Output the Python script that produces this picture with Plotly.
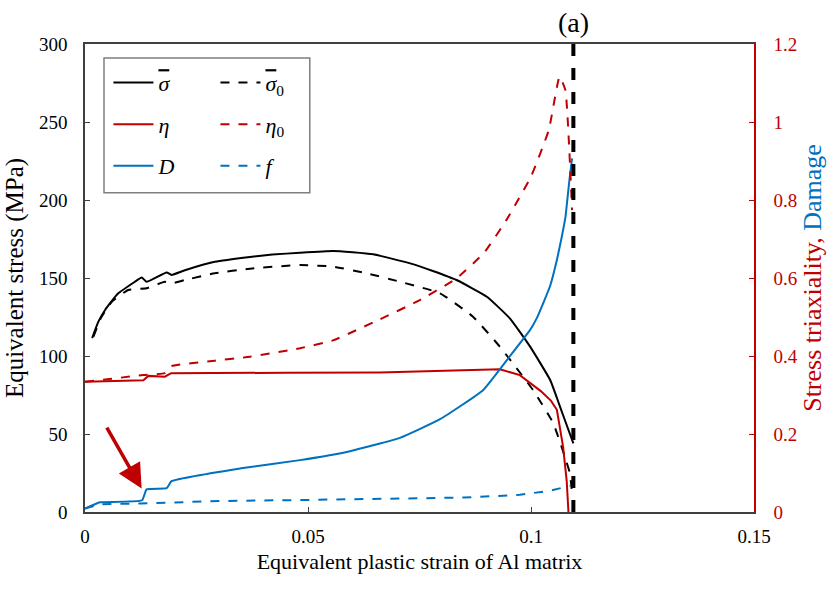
import plotly.graph_objects as go

# Equivalent stress (MPa) vs equivalent plastic strain
strain_sig = [0.0016, 0.003, 0.0045, 0.0074, 0.0112, 0.0127, 0.0138, 0.0183, 0.0194, 0.0224,
              0.0291, 0.037, 0.042, 0.0482, 0.0556, 0.060, 0.0646, 0.0729, 0.078, 0.0833,
              0.0901, 0.0953, 0.0998, 0.1043, 0.1062, 0.1072, 0.1095]
sig = [111.5, 122, 129.5, 140, 147.6, 150.4, 147.6, 153.6, 152, 155,
       160.4, 163.5, 165, 166.2, 167.3, 166.5, 165.2, 159.4, 154.5, 148.7,
       138, 124, 106, 84.6, 70, 62, 44]

strain_sig0 = [0.0019, 0.0035, 0.006, 0.0097, 0.0138, 0.0179, 0.0194, 0.0224, 0.0291, 0.037,
               0.0482, 0.0556, 0.0632, 0.0706, 0.0796, 0.087, 0.093, 0.1005, 0.105, 0.1087, 0.1092]
sig0 = [112.4, 124, 134.8, 142.3, 143.4, 147.6, 146.6, 148.7, 153, 156,
        158.3, 157.3, 153, 147.6, 140.2, 125.2, 106, 78, 56.8, 25, 12]

# Stress triaxiality
strain_eta = [0, 0.0131, 0.0142, 0.0179, 0.0193, 0.0291, 0.045, 0.0661, 0.08, 0.093,
              0.0975, 0.1005, 0.1022, 0.1045, 0.1058, 0.1072, 0.1080, 0.1084]
eta = [0.334, 0.338, 0.349, 0.347, 0.356, 0.356, 0.357, 0.358, 0.362, 0.366,
       0.351, 0.326, 0.31, 0.285, 0.262, 0.167, 0.08, 0.0]

strain_eta0 = [0, 0.0131, 0.0179, 0.0194, 0.0291, 0.037, 0.0482, 0.0556, 0.0661, 0.0745,
               0.0833, 0.0895, 0.0945, 0.1, 0.104, 0.1064, 0.1077, 0.1092]
eta0 = [0.334, 0.351, 0.356, 0.374, 0.388, 0.398, 0.42, 0.44, 0.494, 0.54,
        0.599, 0.665, 0.749, 0.86, 0.98, 1.116, 1.082, 0.774]

# Damage D and void volume fraction f
strain_D = [0, 0.0022, 0.0034, 0.0128, 0.0138, 0.0183, 0.0194, 0.035, 0.0482, 0.0594,
            0.0706, 0.0796, 0.0893, 0.0953, 0.0998, 0.1013, 0.1043, 0.1058, 0.1068, 0.1077,
            0.1086, 0.1092]
D = [0.009, 0.02, 0.025, 0.03, 0.058, 0.061, 0.079, 0.112, 0.133, 0.156,
     0.19, 0.238, 0.313, 0.40, 0.467, 0.497, 0.58, 0.646, 0.70, 0.754,
     0.85, 0.907]

strain_f = [0, 0.0034, 0.0125, 0.03, 0.05, 0.07, 0.085, 0.0975, 0.1045, 0.1087]
f = [0.009, 0.02, 0.022, 0.028, 0.031, 0.034, 0.037, 0.044, 0.055, 0.067]

fracture_strain = 0.1095
arrow_tip = (0.0127, 15)
arrow_tail = (0.0047, 55)

BLACK = "#000000"
RED = "#C00000"
BLUE = "#0070C0"
FONT = "Liberation Serif"

fig = go.Figure()


def add(x, y, name, color, dash, axis, legend, shape="linear"):
    fig.add_trace(go.Scatter(
        x=x, y=y, name=name, mode="lines", yaxis=axis,
        line=dict(color=color, width=2, dash=dash, shape=shape, smoothing=0.4),
        legend=legend, legendgroup=name,
    ))


SIGMA_BAR = "<span style='text-decoration:overline'><i>σ</i></span>"

add(strain_sig, sig, SIGMA_BAR, BLACK, "solid", "y", "legend", "spline")
add(strain_eta, eta, "<i>η</i>", RED, "solid", "y2", "legend")
add(strain_D, D, "<i>D</i>", BLUE, "solid", "y2", "legend", "spline")
add(strain_sig0, sig0, SIGMA_BAR + "<sub>0</sub>", BLACK, "dash", "y", "legend2", "spline")
add(strain_eta0, eta0, "<i>η</i><sub>0</sub>", RED, "dash", "y2", "legend2", "spline")
add(strain_f, f, "<i>f</i>", BLUE, "dash", "y2", "legend2")

# fracture strain marker
fig.add_shape(type="line", xref="x", yref="paper", x0=fracture_strain, x1=fracture_strain,
              y0=0, y1=1, line=dict(color=BLACK, width=4, dash="dash"))

# legend frame
fig.add_shape(type="rect", xref="paper", yref="paper", x0=0.0284, x1=0.336, y0=0.682, y1=0.970,
              line=dict(color="#7f7f7f", width=1.5), fillcolor="rgba(0,0,0,0)")

fig.add_annotation(x=arrow_tip[0], y=arrow_tip[1], ax=arrow_tail[0], ay=arrow_tail[1],
                   xref="x", yref="y", axref="x", ayref="y", text="", showarrow=True,
                   arrowhead=2, arrowsize=1.4, arrowwidth=3.5, arrowcolor=RED)

fig.add_annotation(x=fracture_strain, y=1.0, xref="x", yref="paper", yanchor="bottom",
                   text="(a)", showarrow=False, font=dict(family=FONT, size=28, color=BLACK),
                   yshift=4)

legend_common = dict(
    bgcolor="rgba(0,0,0,0)", borderwidth=0, font=dict(family=FONT, size=22, color=BLACK),
    xanchor="left", yanchor="top", tracegroupgap=10, itemwidth=40,
)

tick_font = dict(family=FONT, size=19, color=BLACK)

fig.update_layout(
    width=832, height=591,
    margin=dict(l=85, r=78, t=44, b=79),
    paper_bgcolor="white", plot_bgcolor="white",
    font=dict(family=FONT, size=19, color=BLACK),
    legend=dict(x=0.035, y=0.962, **legend_common),
    legend2=dict(x=0.195, y=0.962, **legend_common),
    xaxis=dict(
        range=[0, 0.15], tickvals=[0, 0.05, 0.1, 0.15], ticktext=["0", "0.05", "0.1", "0.15"],
        ticks="inside", ticklen=5, tickcolor="#404040", showgrid=False, zeroline=False,
        showline=True, linecolor="#404040", linewidth=1.5, mirror=True, tickfont=tick_font,
        title=dict(text="Equivalent plastic strain of Al matrix",
                   font=dict(family=FONT, size=22), standoff=8),
        ticklabelstandoff=6,
    ),
    yaxis=dict(
        range=[0, 300], dtick=50, ticks="inside", ticklen=5, tickcolor="#404040",
        showgrid=False, zeroline=False, showline=True, linecolor="#404040", linewidth=1.5,
        tickfont=tick_font,
        title=dict(text="Equivalent stress (MPa)", font=dict(family=FONT, size=25), standoff=8),
        ticklabelstandoff=12,
    ),
    yaxis2=dict(
        range=[0, 1.2], tickvals=[0, 0.2, 0.4, 0.6, 0.8, 1.0, 1.2],
        ticktext=["0", "0.2", "0.4", "0.6", "0.8", "1", "1.2"],
        overlaying="y", side="right", ticks="inside", ticklen=5, tickcolor=RED,
        tickfont=dict(family=FONT, size=19, color=RED), showgrid=False, zeroline=False,
        showline=True, linecolor=RED, linewidth=1.5,
        title=dict(text="<span style='color:#C00000'>Stress triaxiality,</span> "
                        "<span style='color:#0070C0'>Damage</span>",
                   font=dict(family=FONT, size=26), standoff=4),
        ticklabelstandoff=14,
    ),
)

fig.write_html("out.html")
